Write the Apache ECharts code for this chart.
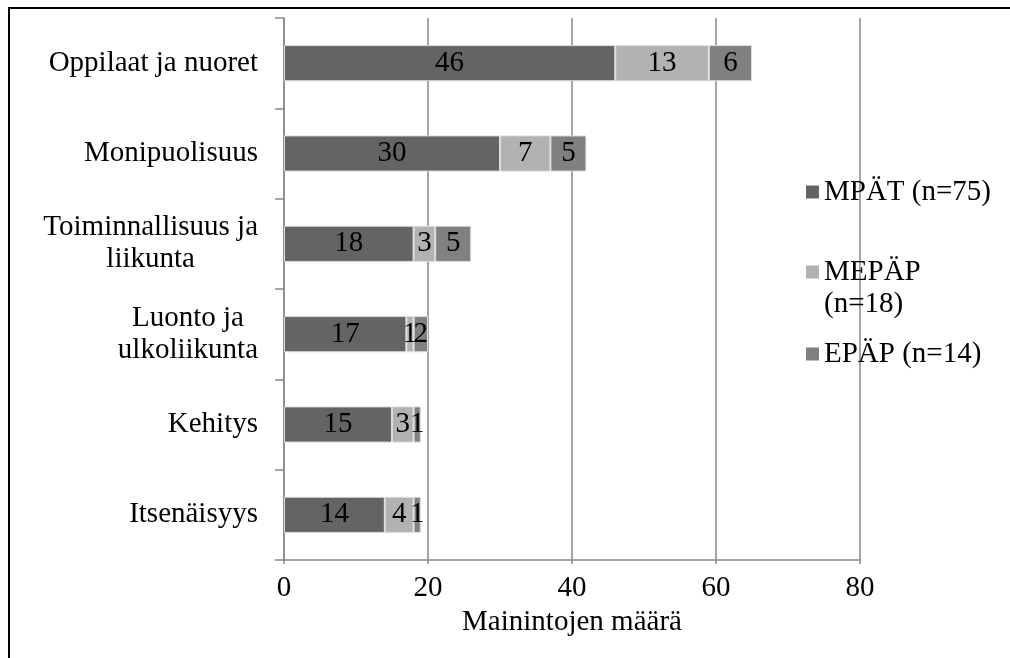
<!DOCTYPE html>
<html>
<head>
<meta charset="utf-8">
<script src="https://cdn.jsdelivr.net/npm/echarts@6/dist/echarts.min.js"></script>
<style>
  html, body { margin: 0; padding: 0; background: #fff; }
  #chart { width: 1010px; height: 658px; }
</style>
</head>
<body>
<div id="chart"></div>
<script>
// Categories, top to bottom
const categories = [
  'Oppilaat ja nuoret',
  'Monipuolisuus',
  'Toiminnallisuus ja\nliikunta',
  'Luonto ja\nulkoliikunta',
  'Kehitys',
  'Itsenäisyys'
];
// Mentions per group
const seriesNames = ['MPÄT (n=75)', 'MEPÄP (n=18)', 'EPÄP (n=14)'];
const mpat  = [46, 30, 18, 17, 15, 14];
const mepap = [13, 7, 3, 1, 3, 4];
const epap  = [6, 5, 5, 2, 1, 1];
const xTicks = [0, 20, 40, 60, 80];
const axisTitle = 'Mainintojen määrä';

const FONT = "'Liberation Serif', 'Times New Roman', serif";
const FS = 29;
const colors = ['#646464', '#b2b2b2', '#808080'];
const gridColor = '#888888';

const chart = echarts.init(document.getElementById('chart'), null, { renderer: 'canvas' });

function barSeries(name, data, color) {
  return {
    name: name,
    type: 'bar',
    stack: 'total',
    data: data,
    barWidth: '40%',
    itemStyle: { color: color, borderColor: '#dcdcdc', borderWidth: 1 },
    label: {
      show: true,
      position: 'inside',
      color: '#000',
      fontFamily: FONT,
      fontSize: FS
    },
    emphasis: { disabled: true }
  };
}

const legendBase = {
  orient: 'vertical',
  left: 806,
  padding: 0,
  icon: 'rect',
  itemWidth: 13,
  itemHeight: 13,
  itemGap: 0,
  selectedMode: false,
  itemStyle: { borderWidth: 0 },
  textStyle: { fontFamily: FONT, fontSize: FS, color: '#000', lineHeight: 32 }
};

const option = {
  animation: false,
  backgroundColor: '#fff',
  color: colors,
  grid: { left: 284, right: 150, top: 18, bottom: 98, containLabel: false },
  legend: [
    Object.assign({}, legendBase, { top: 176, data: [seriesNames[0]] }),
    // two-line entry: a leading blank line keeps the marker beside the first line
    Object.assign({}, legendBase, {
      top: 224,
      data: [seriesNames[1]],
      formatter: () => ' \nMEPÄP\n(n=18)'
    }),
    Object.assign({}, legendBase, { top: 338, data: [seriesNames[2]] })
  ],
  xAxis: {
    type: 'value',
    min: xTicks[0],
    max: xTicks[xTicks.length - 1],
    interval: xTicks[1] - xTicks[0],
    name: axisTitle,
    nameLocation: 'middle',
    nameGap: 45,
    nameTextStyle: { fontFamily: FONT, fontSize: FS, color: '#000' },
    axisLine: { show: true, lineStyle: { color: gridColor, width: 1.5 } },
    axisTick: { show: true, length: 4, lineStyle: { color: gridColor, width: 1.5 } },
    axisLabel: { fontFamily: FONT, fontSize: FS, color: '#000', margin: 14 },
    splitLine: { show: true, lineStyle: { color: gridColor, width: 1.5 } }
  },
  yAxis: {
    type: 'category',
    data: categories,
    inverse: true,
    axisLine: { show: true, lineStyle: { color: gridColor, width: 1.5 } },
    axisTick: { show: true, length: 9, lineStyle: { color: gridColor, width: 1.5 } },
    axisLabel: {
      margin: 26,
      color: '#000',
      fontFamily: FONT,
      fontSize: FS,
      lineHeight: 32,
      formatter: (v) => v.split('\n').map(s => '{c|' + s + '}').join('\n'),
      rich: {
        c: { align: 'center', fontFamily: FONT, fontSize: FS, color: '#000', lineHeight: 32 }
      }
    },
    splitLine: { show: false }
  },
  series: [
    barSeries(seriesNames[0], mpat, colors[0]),
    barSeries(seriesNames[1], mepap, colors[1]),
    barSeries(seriesNames[2], epap, colors[2])
  ],
  // outer frame (left and top edges fall inside the view)
  graphic: [{
    type: 'polyline',
    shape: { points: [[9, 700], [9, 8], [1030, 8]] },
    style: { fill: null, stroke: '#000', lineWidth: 2 },
    silent: true
  }]
};

chart.setOption(option);
</script>
</body>
</html>
